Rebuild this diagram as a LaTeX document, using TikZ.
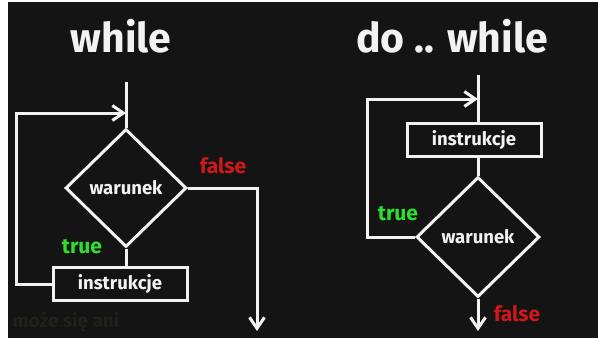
\documentclass[tikz,border=0pt]{standalone}
\usepackage{fontspec}
\setmainfont{Fira Sans}
\usetikzlibrary{shapes.geometric,arrows.meta}
\definecolor{bg}{HTML}{141414}
\definecolor{fg}{HTML}{F2F2F2}
\definecolor{myred}{HTML}{D01818}
\definecolor{mygreen}{HTML}{2EE02E}
\definecolor{subt}{HTML}{212118}
\begin{document}
\begin{tikzpicture}[x=1pt,y=-1pt,
  flow/.style={draw=fg,line width=3pt,line join=miter},
  arr/.style={flow,-{Straight Barb[length=11pt,width=15pt,line width=3pt]}},
  cond/.style={diamond,draw=fg,line width=3pt,inner sep=0pt,text=fg,font=\fontsize{18.5}{20}\selectfont\bfseries},
  instr/.style={rectangle,draw=fg,line width=3pt,inner sep=0pt,minimum width=134pt,minimum height=33pt,text=fg,font=\fontsize{18.5}{20}\selectfont\bfseries},
  title/.style={text=fg,font=\fontsize{41}{44}\selectfont\bfseries},
  tlab/.style={text=mygreen,font=\fontsize{21}{24}\selectfont\bfseries},
  flab/.style={text=myred,font=\fontsize{21}{24}\selectfont\bfseries}]
\useasboundingbox (0,0) rectangle (598,338);
\fill[white] (0,0) rectangle (598,338);
\fill[bg] (8,2) rectangle (598,338);
% ---- while ----
\node[title] (t1) at (121,36) {while};
\coordinate (s1) at (126,82);
\node[cond,minimum width=121pt,minimum height=118pt] (d1) at (126,188) {warunek};
\node[instr] (b1) at (120,284) {instrukcje};
\coordinate (l1) at (16,284);
\coordinate (l2) at (16,113);
\coordinate (m1) at (126,113);
\coordinate (f1) at (257,188);
\coordinate (e1) at (257,331);
\draw[flow] (s1) -- (d1.north);
\draw[flow] (d1.south) -- (d1.south |- b1.north);
\draw[arr] (b1.west) -- (l1) -- (l2) -- (m1);
\draw[arr] (d1.east) -- (f1) -- (e1);
\node[flab] (fl1) at (223,166) {false};
\node[tlab] (tl1) at (82,247) {true};
% ---- do while ----
\node[title] (t2) at (452,36) {do .. while};
\coordinate (s2) at (478,75);
\node[instr] (b2) at (474,140) {instrukcje};
\node[cond,minimum width=123pt,minimum height=120pt] (d2) at (478,237) {warunek};
\coordinate (k1) at (367,237);
\coordinate (k2) at (367,99);
\coordinate (n1) at (478,99);
\coordinate (e2) at (478,331);
\draw[flow] (s2) -- (s2 |- b2.north);
\draw[flow] (b2.south -| d2.north) -- (d2.north);
\draw[arr] (d2.west) -- (k1) -- (k2) -- (n1);
\draw[arr] (d2.south) -- (e2);
\node[tlab] (tl2) at (398,214) {true};
\node[flab] (fl2) at (517,314) {false};
% faint subtitle
\node[text=subt,font=\fontsize{19}{21}\selectfont\bfseries,anchor=west] (sub) at (9,322) {może się ani};
\end{tikzpicture}
\end{document}
